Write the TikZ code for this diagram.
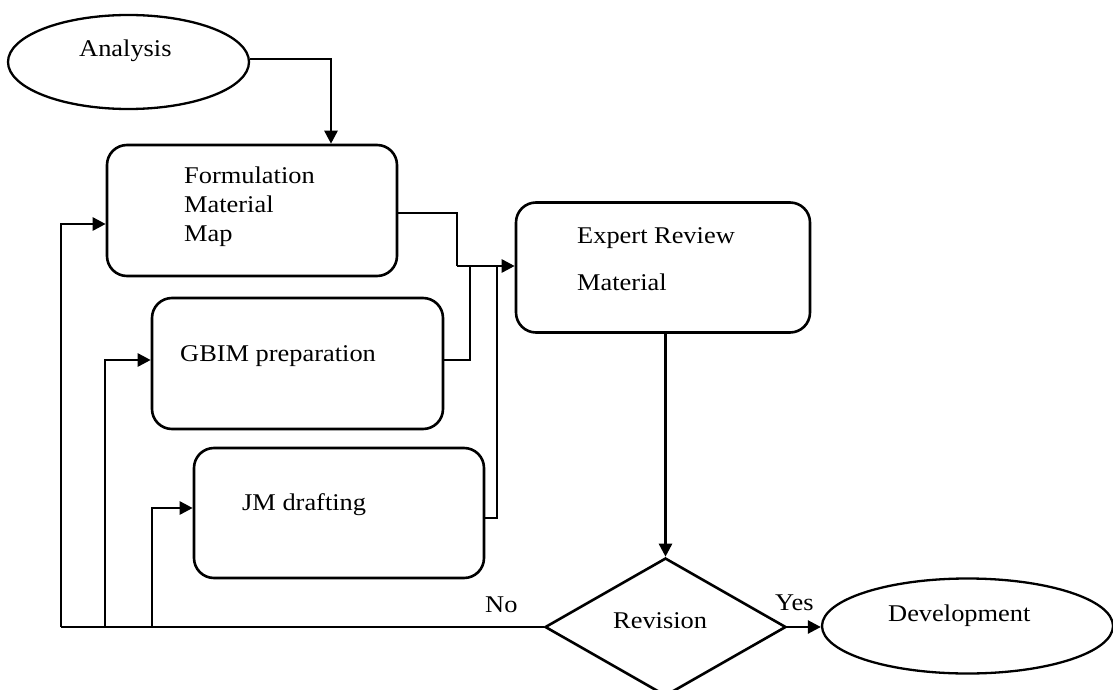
\documentclass[tikz,border=0pt]{standalone}
\usepackage{fontspec}
\setmainfont{Liberation Serif}[FakeStretch=1.1]
\usetikzlibrary{shapes.geometric,arrows.meta}
\begin{document}
\begin{tikzpicture}[x=1pt,y=-1pt,
  ln/.style={line width=2.6pt},
  arr/.style={ln,-{Triangle[length=13pt,width=13pt]}},
  boxst/.style={draw,line width=2.6pt,rounded corners=20pt,inner sep=0pt},
  ell/.style={draw,line width=2.3pt,ellipse,inner sep=0pt},
  txt/.style={anchor=base west,inner sep=0pt,font=\fontsize{24}{28}\selectfont}]
\useasboundingbox (0,0) rectangle (1113,690);
\clip (0,0) rectangle (1113,690);
% shapes
\node[ell,minimum width=241pt,minimum height=94pt] (an) at (128.5,62) {};
\node[boxst,minimum width=290pt,minimum height=131pt] (form) at (252,210.5) {};
\node[boxst,minimum width=291pt,minimum height=131pt] (gb) at (297.5,363.5) {};
\node[boxst,minimum width=290pt,minimum height=130pt] (jm) at (339,513) {};
\node[boxst,minimum width=294pt,minimum height=130pt] (er) at (663,267.5) {};
\node[draw,line width=2.6pt,diamond,aspect=1.746,minimum width=241pt,minimum height=138pt,inner sep=0pt] (dia) at (665.5,627) {};
\node[ell,minimum width=291pt,minimum height=95pt] (dev) at (967.5,626) {};
% texts
\node[txt] (tan) at (79,57) {Analysis};
\node[txt] (tf1) at (184,183) {Formulation};
\node[txt] (tf2) at (184,212) {Material};
\node[txt] (tf3) at (184,241) {Map};
\node[txt] (tgb) at (180,361) {GBIM preparation};
\node[txt] (tjm) at (242,510) {JM drafting};
\node[txt] (ter1) at (577,243) {Expert Review};
\node[txt] (ter2) at (577,290) {Material};
\node[txt] (trev) at (613,628) {Revision};
\node[txt] (tyes) at (775,610) {Yes};
\node[txt] (tno) at (485,612) {No};
\node[txt] (tdev) at (888,621) {Development};
% junction coordinates
\coordinate (j1) at (457,266);
\coordinate (j2) at (470,266);
\coordinate (j3) at (497,266);
\coordinate (l1) at (61,627);
\coordinate (l2) at (105,627);
\coordinate (l3) at (152,627);
% connectors
\draw[arr] (an.east |- 0,59) -| (form.north -| 331,0);
\draw[ln] (form.east |- 0,213) -| (j1);
\draw[arr] (j1) -- (er.west |- j1);
\draw[ln] (gb.east |- 0,360) -| (j2);
\draw[ln] (jm.east |- 0,518) -| (j3);
\draw[arr] (er.south -| dia.north) -- (dia.north);
\draw[arr] (dia.east) -- (dev.west |- dia.east);
\draw[ln] (dia.west) -- (l1);
\draw[arr] (l1) |- (form.west |- 0,224);
\draw[arr] (l2) |- (gb.west |- 0,360);
\draw[arr] (l3) |- (jm.west |- 0,508);
\end{tikzpicture}
\end{document}
